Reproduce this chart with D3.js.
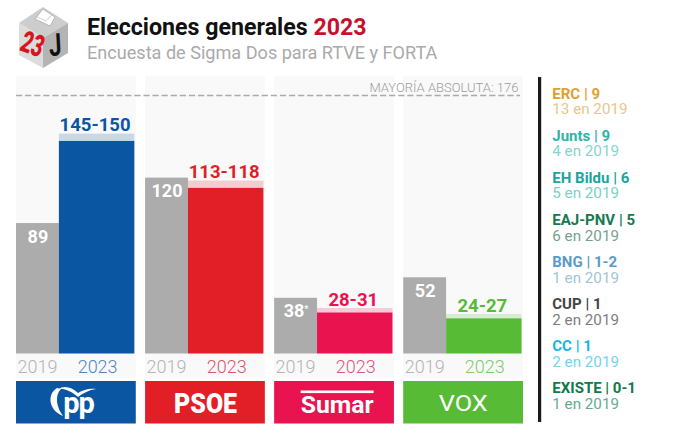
<!DOCTYPE html>
<html><head><meta charset="utf-8">
<style>
html,body{margin:0;padding:0;background:#fff}
svg{display:block}
text{font-family:Roboto,sans-serif}
</style>
<script src="https://cdn.jsdelivr.net/npm/d3@7/dist/d3.min.js"></script>
</head><body>
<svg id="c" width="674" height="435"></svg>
<script>
const parties = ["PP","PSOE","Sumar","VOX"];
const seats2019 = [89,120,38,52];
const seatsLow = [145,113,28,24];
const seatsHigh = [150,118,31,27];
const rangeLabels = ["145-150","113-118","28-31","24-27"];
const marks2019 = ["","","*",""];
const partyColors = ["#0a56a3","#e21f26","#e8134f","#57bb35"];
const yearColors = ["#4f86ba","#d9566a","#d9587f","#7cc96a"];
const years = ["2019","2023"];
const majority = 176;
const majorityLabel = "MAYORÍA ABSOLUTA: 176";
const minorNames = ["ERC | 9","Junts | 9","EH Bildu | 6","EAJ-PNV | 5","BNG | 1-2","CUP | 1","CC | 1","EXISTE | 0-1"];
const minorPrev = ["13 en 2019","4 en 2019","5 en 2019","6 en 2019","1 en 2019","2 en 2019","2 en 2019","1 en 2019"];
const minorColors = ["#e0a030","#2cb5a8","#1aa59d","#157a4e","#5b9bc8","#444444","#1ab4e6","#0f7a4a"];
const minorSubColors = ["#e9c68c","#84d6cd","#7bd0c9","#76a08f","#a3c5d6","#7d7d7d","#74d3f0","#64ac8e"];

const svg = d3.select("#c");
const x = d3.scaleBand().domain(parties).range([16,523]).paddingInner(0.072);
const y = d3.scaleLinear().domain([0,176]).range([353.5,95.5]);
const band = x.bandwidth();
const inner = d3.scaleLinear().domain([0,1]).range([0,band]);
const split = 0.358, innerEnd = 0.988;

/* header */
const title = svg.append("text").attr("x",87).attr("y",35).attr("font-size",23.2).attr("font-weight",700).attr("fill","#111");
title.append("tspan").text("Elecciones generales ");
title.append("tspan").attr("fill","#c8102e").text("2023");
svg.append("text").attr("x",87).attr("y",59).attr("font-size",18.1).attr("fill","#aaaaaa").text("Encuesta de Sigma Dos para RTVE y FORTA");

/* ballot box */
const icon = svg.append("g");
icon.append("polygon").attr("points","43,7 68,23 43,38 19,23").attr("fill","#cdcdcd");
icon.append("polygon").attr("points","19,23 43,38 43,68 19,55").attr("fill","#dcdcdc");
icon.append("polygon").attr("points","68,23 43,38 43,68 68,53").attr("fill","#b4b4b4");
icon.append("polygon").attr("points","35,19 43,9 55,17 50,26").attr("fill","#fff").attr("stroke","#999").attr("stroke-width",.6);
icon.append("path").attr("d","M37,17 L46,21 L52,15").attr("fill","none").attr("stroke","#bbb").attr("stroke-width",.7);
icon.append("text").attr("transform","translate(18.5,50) rotate(20) scale(.72,1.12)").attr("font-size",27).attr("font-weight",900).attr("fill","#d8141c").text("23");
icon.append("text").attr("transform","translate(49.5,56) rotate(-3) scale(.8,1.12)").attr("font-size",28).attr("font-weight",700).attr("fill","#111").text("J");

/* panels */
const g = svg.append("g").selectAll("g").data(parties).join("g")
  .attr("transform",d=>`translate(${x(d)},0)`);
g.append("rect").attr("x",0).attr("y",76).attr("width",band).attr("height",302).attr("fill","#f9f9fa");

/* majority */
svg.append("line").attr("x1",16).attr("x2",520).attr("y1",y(majority)).attr("y2",y(majority))
  .attr("stroke","#ababab").attr("stroke-width",1.3).attr("stroke-dasharray","6.2,2.9");
svg.append("text").attr("x",518.5).attr("y",92).attr("text-anchor","end").attr("font-size",13).attr("font-weight",300).attr("fill","#9c9c9c").text(majorityLabel);

/* bars */
g.append("rect").attr("x",0).attr("width",inner(split))
  .attr("y",(d,i)=>y(seats2019[i])).attr("height",(d,i)=>y(0)-y(seats2019[i])).attr("fill","#acacac");
g.append("rect").attr("x",inner(split)).attr("width",inner(innerEnd-split))
  .attr("y",(d,i)=>y(seatsHigh[i])).attr("height",(d,i)=>y(seatsLow[i])-y(seatsHigh[i]))
  .attr("fill",(d,i)=>partyColors[i]).attr("opacity",.2);
g.append("rect").attr("x",inner(split)).attr("width",inner(innerEnd-split))
  .attr("y",(d,i)=>y(seatsLow[i])).attr("height",(d,i)=>y(0)-y(seatsLow[i]))
  .attr("fill",(d,i)=>partyColors[i]);

/* labels */
const lab2019 = g.append("text").attr("x",inner(split/2)+.5).attr("y",(d,i)=>y(seats2019[i])+19.5)
  .attr("text-anchor","middle").attr("font-size",18).attr("font-weight",700).attr("fill","#fff")
  .text((d,i)=>seats2019[i]);
lab2019.append("tspan").attr("font-size",9).attr("dy",-5).text((d,i)=>marks2019[i]);
g.append("text").attr("x",inner((split+innerEnd)/2)-1.5).attr("y",(d,i)=>y(seatsHigh[i])-2.2)
  .attr("text-anchor","middle").attr("font-size",18.5).attr("font-weight",700)
  .attr("fill",(d,i)=>partyColors[i]).text((d,i)=>rangeLabels[i]);
g.append("text").attr("x",inner(split/2)).attr("y",373).attr("text-anchor","middle")
  .attr("font-size",18).attr("font-weight",300).attr("fill","#b4b4b4").text(years[0]);
g.append("text").attr("x",inner((split+innerEnd)/2)+1).attr("y",373).attr("text-anchor","middle")
  .attr("font-size",18).attr("font-weight",300).attr("fill",(d,i)=>yearColors[i]).text(years[1]);

/* logos */
g.append("rect").attr("x",0).attr("y",381).attr("width",band).attr("height",42.5).attr("fill",(d,i)=>partyColors[i]);
const lp = g.filter(d=>d==="PP");
lp.append("path").attr("fill","#fff").attr("d","M41,388 C31,394 32,410 47,416 C41,408 38,396 45,389 Z");
lp.append("path").attr("fill","#fff").attr("d","M42,389 C48,385 56,387 62,393 C67,390 73,388 80,389 C73,390 67,393 62,397 C56,392 49,388 42,389 Z");
lp.append("text").attr("x",62.5).attr("y",413).attr("text-anchor","middle").attr("font-size",29).attr("font-weight",700).attr("letter-spacing",-1).attr("fill","#fff").text("pp");
g.filter(d=>d==="PSOE").append("text").attr("x",60.5).attr("y",413).attr("text-anchor","middle")
  .attr("font-size",28).attr("font-weight",900).attr("fill","#fff").attr("textLength",63).attr("lengthAdjust","spacingAndGlyphs").text("PSOE");
const ls = g.filter(d=>d==="Sumar");
ls.append("rect").attr("x",26.5).attr("y",390.5).attr("width",73).attr("height",2.6).attr("fill","#fff");
ls.append("text").attr("x",63).attr("y",413).attr("text-anchor","middle").attr("font-size",23).attr("font-weight",700).attr("fill","#fff").attr("textLength",73).attr("lengthAdjust","spacingAndGlyphs").text("Sumar");
g.filter(d=>d==="VOX").append("text").attr("x",60).attr("y",410.5).attr("text-anchor","middle")
  .attr("font-size",22).attr("font-weight",400).attr("fill","#fff").attr("textLength",49).attr("lengthAdjust","spacingAndGlyphs").text("VOX");

/* side list */
svg.append("rect").attr("x",538).attr("y",77).attr("width",3.2).attr("height",345).attr("fill","#1a1a1a");
const ly = d3.scalePoint().domain(minorNames).range([98.5,393.3]);
const side = svg.append("g").selectAll("g").data(minorNames).join("g");
side.append("text").attr("x",552.3).attr("y",d=>ly(d)).attr("font-size",15).attr("font-weight",700)
  .attr("fill",(d,i)=>minorColors[i]).text(d=>d);
side.append("text").attr("x",552.3).attr("y",d=>ly(d)+15.7).attr("font-size",15.2).attr("font-weight",400)
  .attr("fill",(d,i)=>minorSubColors[i]).text((d,i)=>minorPrev[i]);
</script>
</body></html>
